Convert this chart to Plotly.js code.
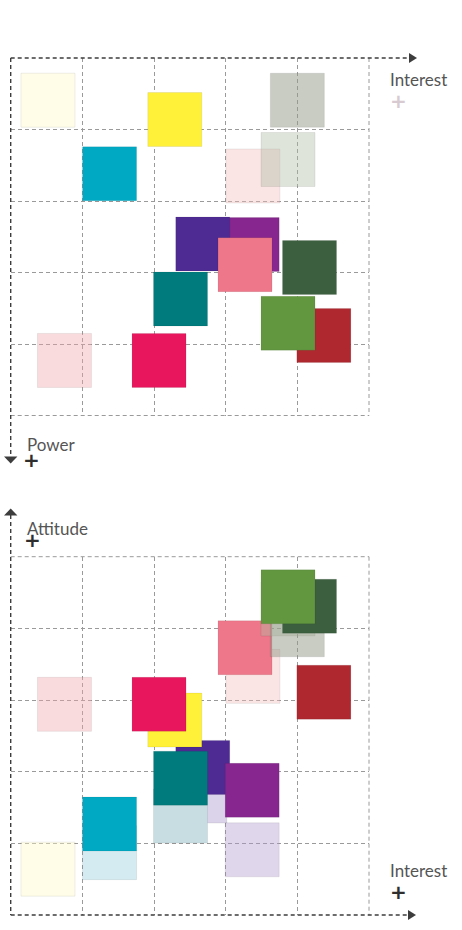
<!DOCTYPE html>
<html>
<head>
<meta charset="utf-8">
<script src="https://cdn.plot.ly/plotly-3.0.1.min.js"></script>
<style>html,body{margin:0;padding:0;background:#fff;}#chart{width:462px;height:930px;}</style>
</head>
<body>
<div id="chart"></div>
<script>
// ---------- DATA ----------
// Top panel: Interest (x, left→right) vs Power (y, grows downward)
const topNames = ["cream","graygreen","lightpink","lightgraygreen","yellow","cyan","purple","indigo","pink","darkgreen","teal","darkred","green","lightpink2","magenta"];
const topInterest = [0.52, 4.00, 3.38, 3.87, 2.29, 1.38, 3.37, 2.68, 3.27, 4.17, 2.37, 4.37, 3.87, 0.75, 2.07];
const topPower    = [0.59, 0.59, 1.65, 1.42, 0.86, 1.62, 2.61, 2.60, 2.89, 2.93, 3.37, 3.88, 3.71, 4.23, 4.23];

// Bottom panel: Interest (x) vs Attitude (y, grows upward)
const botNames = ["cream","lightcyan","cyan","lightlavender","lightbluegray","indigo","teal","lightlavender2","purple","lightpink2","yellow","magenta","lightpink","pink","lightgraygreen","graygreen","darkred","darkgreen","green"];
const botInterest = [0.52, 1.38, 1.38, 2.64, 2.37, 2.68, 2.37, 3.37, 3.37, 0.75, 2.29, 2.07, 3.38, 3.27, 3.87, 4.00, 4.37, 4.17, 3.87];
const botAttitude = [0.64, 0.87, 1.27, 1.66, 1.38, 2.06, 1.91, 0.91, 1.74, 2.94, 2.72, 2.94, 3.33, 3.73, 4.27, 3.98, 3.11, 4.31, 4.44];

const gridTicks = [1, 2, 3, 4];
const labels = {interest: "Interest", power: "Power", attitude: "Attitude", plus: "+"};

// ---------- STYLE ----------
const palette = {
  cream: "rgba(255,248,198,0.4)",
  graygreen: "rgba(147,153,135,0.5)",
  lightgraygreen: "rgba(172,188,162,0.4)",
  lightpink: "rgba(245,188,188,0.4)",
  lightpink2: "rgba(240,165,170,0.4)",
  lightlavender: "#DAD3E9",
  lightbluegray: "#C7DDE1",
  lightlavender2: "rgba(178,152,205,0.4)",
  lightcyan: "rgba(145,205,220,0.4)",
  yellow: "#FFF03A",
  cyan: "#00A9C3",
  indigo: "#4E2B93",
  purple: "#86268E",
  pink: "#EE7789",
  darkgreen: "#3B5F3F",
  teal: "#007B7D",
  green: "#62963F",
  darkred: "#AF2830",
  magenta: "#E8175D"
};

const W = 462, H = 930;
const X0 = 10.7, X1 = 369;
const T0 = 58, T1 = 415.5;     // top panel pixel extents
const B0 = 556.7, B1 = 915;    // bottom panel pixel extents
const px = v => v / W;
const py = v => 1 - v / H;

const markerBase = {symbol: "square", size: 54, line: {width: 0.6, color: "rgba(0,0,0,0.12)"}};

const traces = [
  {type: "scatter", mode: "markers", x: topInterest, y: topPower, xaxis: "x", yaxis: "y",
   marker: Object.assign({}, markerBase, {color: topNames.map(n => palette[n])}),
   hoverinfo: "skip", cliponaxis: false},
  {type: "scatter", mode: "markers", x: botInterest, y: botAttitude, xaxis: "x2", yaxis: "y2",
   marker: Object.assign({}, markerBase, {color: botNames.map(n => palette[n])}),
   hoverinfo: "skip", cliponaxis: false}
];

const gridColor = "#9a9a9a";
const dashPat = "4px,3px";
const axisBase = {
  tickmode: "array", tickvals: gridTicks, ticktext: gridTicks.map(() => ""),
  showgrid: true, gridcolor: gridColor, gridwidth: 1, griddash: dashPat,
  zeroline: false, showline: false, ticks: "", showticklabels: false, fixedrange: true
};

function line(x0, y0, x1, y1, color, width) {
  return {type: "line", xref: "paper", yref: "paper", x0: px(x0), y0: py(y0), x1: px(x1), y1: py(y1),
          line: {color: color, width: width, dash: dashPat}, layer: "above"};
}
function tri(pts, color) {
  const d = "M " + pts.map(p => px(p[0]) + "," + py(p[1])).join(" L ") + " Z";
  return {type: "path", xref: "paper", yref: "paper", path: d, fillcolor: color, line: {width: 0}, layer: "above"};
}
const dark = "#3d3d3d";
const shapes = [
  // top panel borders
  line(X1, T0, X1, T1, gridColor, 1),
  line(X0, T1, X1, T1, gridColor, 1),
  line(X0, T0, 410, T0, dark, 1.4),
  line(X0, T0, X0, 457, dark, 1.4),
  tri([[409, 53], [417, 58], [409, 63]], dark),
  tri([[4, 456.5], [17.4, 456.5], [10.7, 463.5]], dark),
  // bottom panel borders
  line(X0, B0, X1, B0, gridColor, 1),
  line(X1, B0, X1, B1, gridColor, 1),
  line(X0, B1, 409, B1, dark, 1.4),
  line(X0, 515, X0, B1, dark, 1.4),
  tri([[408, 910], [416, 915], [408, 920]], dark),
  tri([[4, 515.5], [17.4, 515.5], [10.7, 508.5]], dark)
];

const txtFont = {family: "Lato, 'Open Sans', sans-serif", size: 17, color: "#555"};
function ann(text, x, y, font, anchor) {
  return {text: text, xref: "paper", yref: "paper", x: px(x), y: py(y), xanchor: anchor || "left", yanchor: "middle",
          showarrow: false, font: font, borderpad: 0};
}
const plusFont = c => ({family: "'DejaVu Sans', sans-serif", size: 20, color: c});
const annotations = [
  ann(labels.interest, 388.5, 79, txtFont),
  ann("<b>" + labels.plus + "</b>", 398, 101, plusFont("#d8cad1"), "center"),
  ann(labels.power, 26, 444.5, txtFont),
  ann("<b>" + labels.plus + "</b>", 31.5, 459.5, plusFont("#2e2e2e"), "center"),
  ann(labels.attitude, 26, 528.5, txtFont),
  ann("<b>" + labels.plus + "</b>", 32.5, 540, plusFont("#2e2e2e"), "center"),
  ann(labels.interest, 389, 870.5, txtFont),
  ann("<b>" + labels.plus + "</b>", 398.7, 892, plusFont("#2e2e2e"), "center")
];

const layout = {
  width: W, height: H,
  margin: {l: 0, r: 0, t: 0, b: 0},
  paper_bgcolor: "#fff", plot_bgcolor: "rgba(0,0,0,0)",
  showlegend: false,
  xaxis: Object.assign({}, axisBase, {range: [0, 5], domain: [px(X0), px(X1)], anchor: "y"}),
  yaxis: Object.assign({}, axisBase, {range: [5, 0], domain: [py(T1), py(T0)], anchor: "x"}),
  xaxis2: Object.assign({}, axisBase, {range: [0, 5], domain: [px(X0), px(X1)], anchor: "y2"}),
  yaxis2: Object.assign({}, axisBase, {range: [0, 5], domain: [py(B1), py(B0)], anchor: "x2"}),
  shapes: shapes,
  annotations: annotations
};

Plotly.newPlot("chart", traces, layout, {staticPlot: true, displayModeBar: false});
</script>
</body>
</html>
